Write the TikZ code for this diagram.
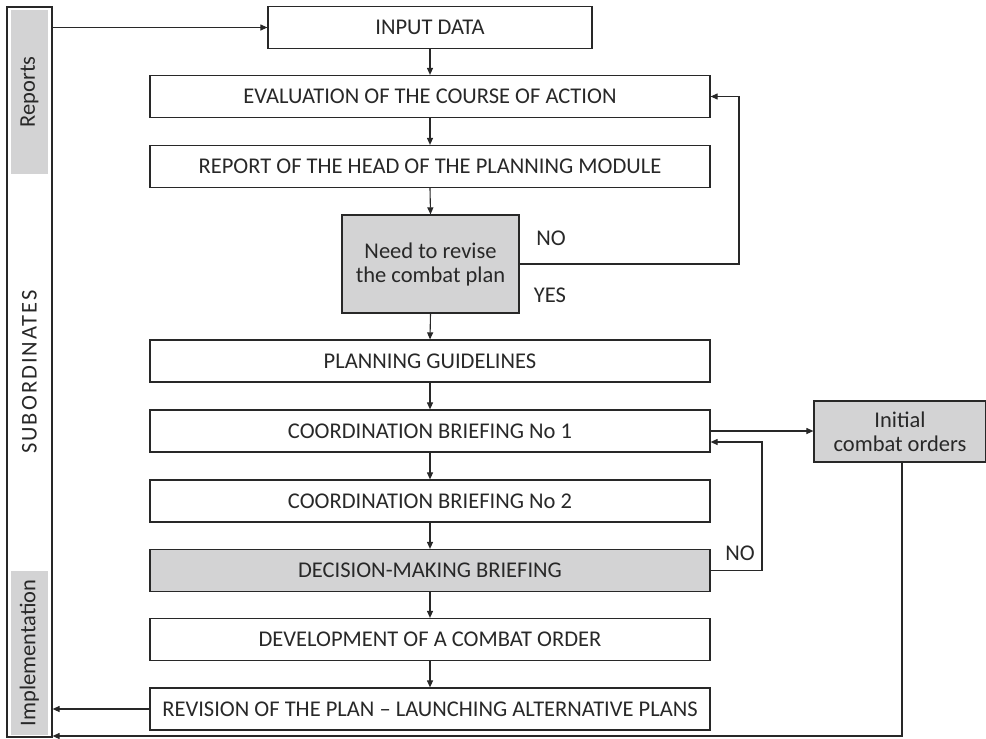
\documentclass[tikz,border=0pt]{standalone}
\usepackage{fontspec}
\setmainfont{Carlito}
\usetikzlibrary{arrows.meta}
\definecolor{ink}{RGB}{40,40,40}
\definecolor{shade}{RGB}{211,211,212}
\begin{document}
\begin{tikzpicture}[x=1pt,y=-1pt,
  font=\fontsize{22.5}{24}\selectfont,
  every node/.style={text=ink},
  stagebox/.style={draw=ink, line width=1.2pt, minimum height=42pt, inner sep=0pt},
  widebox/.style={stagebox, minimum width=560pt},
  greybox/.style={fill=shade},
  strip/.style={fill=shade, minimum width=164pt, minimum height=37pt, inner sep=0pt, rotate=90},
  arr/.style={draw=ink, line width=1.1pt, -{Triangle[length=7pt,width=6pt]}},
  link/.style={draw=ink, line width=1.1pt}]

\useasboundingbox (0,0) rectangle (986,739);

% side frame for reports, subordinates and implementation
\node[draw=ink, line width=1.2pt, minimum width=45pt, minimum height=730pt, inner sep=0pt] (frame) at (29.5,372) {};
\node[strip] (reports) at (29.5,92) {Reports};
\node[strip] (impl) at (29.5,653) {Implementation};
\node[rotate=90] (subs) at (29.5,372) {\addfontfeatures{LetterSpace=9}SUBORDINATES};

% main sequence of stages
\node[stagebox, minimum width=324pt] (input) at (430,27.5) {INPUT DATA};
\node[widebox] (eval)  at (430,96.5)  {EVALUATION OF THE COURSE OF ACTION};
\node[widebox] (head)  at (430,166.5) {REPORT OF THE HEAD OF THE PLANNING MODULE};
\node[stagebox, greybox, minimum width=177pt, minimum height=98pt, align=center] (need) at (430.5,264) {Need to revise\\the combat plan};
\node[widebox] (guide) at (430,361)   {PLANNING GUIDELINES};
\node[widebox] (coordA) at (430,431)  {COORDINATION BRIEFING No 1};
\node[widebox] (coordB) at (430,501)  {COORDINATION BRIEFING No 2};
\node[widebox, greybox] (dmb) at (430,570.5) {DECISION-MAKING BRIEFING};
\node[widebox] (dev)   at (430,639.5) {DEVELOPMENT OF A COMBAT ORDER};
\node[widebox] (rev)   at (430,709)   {REVISION OF THE PLAN -- LAUNCHING ALTERNATIVE PLANS};
\node[stagebox, greybox, minimum width=172pt, minimum height=61pt, align=center] (orders) at (900,431.5) {Initial\\combat orders};

% branch labels
\node (noA)  at (551,238) {NO};
\node (yesA) at (550,295) {YES};
\node (noB)  at (740,553) {NO};

% routing points
\coordinate (loopA) at (739,0);
\coordinate (loopB) at (762,0);
\coordinate (bottom) at (902,736);

% connectors
\draw[arr] (input.west -| frame.east) -- (input.west);
\draw[arr] (input.south) -- (eval.north);
\draw[arr] (eval.south) -- (head.north);
\draw[arr] (head.south) -- (need.north);
\draw[arr] (need.south) -- (guide.north);
\draw[arr] (guide.south) -- (coordA.north);
\draw[arr] (coordA.south) -- (coordB.north);
\draw[arr] (coordB.south) -- (dmb.north);
\draw[arr] (dmb.south) -- (dev.north);
\draw[arr] (dev.south) -- (rev.north);

\draw[arr] (need.east) -- (need.east -| loopA) |- (eval.east);
\draw[arr] (coordA.east) -- (coordA.east -| orders.west);
\draw[arr] (dmb.east) -- (dmb.east -| loopB) |- ([yshift=-11pt]coordA.east);
\draw[arr] (rev.west) -- (rev.west -| frame.east);
\draw[arr] (orders.south -| bottom) -- (bottom) -- (bottom -| frame.east);
\end{tikzpicture}
\end{document}
